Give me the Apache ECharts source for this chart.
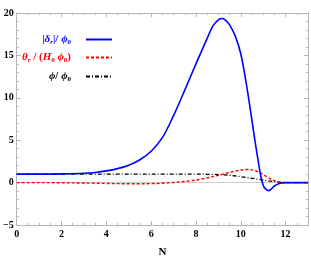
<!DOCTYPE html>
<html><head><meta charset="utf-8">
<script src="https://cdn.jsdelivr.net/npm/echarts@6/dist/echarts.min.js"></script>
<style>html,body{margin:0;padding:0;background:#fff}#c{width:311px;height:263px}</style>
</head><body><div id="c"></div>
<script>
var N = [0,1,2,3,3.5,4,4.5,5,5.5,6,6.5,7,7.5,8,8.5,8.75,9,9.15,9.3,9.5,9.75,10,10.25,10.5,10.75,11,11.25,11.5,11.75,12,12.5,13];
var deltaVals = [1.0,1.0,1.03,1.1,1.2,1.38,1.65,2.05,2.7,3.7,5.3,7.9,10.9,14.0,17.0,18.45,19.2,19.35,19.2,18.6,17.3,15.2,11.6,7.3,3.0,-0.3,-0.95,-0.4,-0.08,0,0,0];
var thetaVals = [0,0,-0.02,-0.05,-0.07,-0.1,-0.12,-0.14,-0.14,-0.12,-0.07,0.02,0.14,0.3,0.55,0.7,0.87,0.97,1.07,1.2,1.35,1.48,1.55,1.5,1.3,0.95,0.55,0.22,0.05,0,0,0];
var phiVals = [1,1,1,1,1,1,1,1,1,1,1,1,1,1,0.98,0.97,0.95,0.93,0.9,0.87,0.8,0.7,0.6,0.5,0.4,0.3,0.2,0.12,0.05,0.01,0,0];
var xTicks = [0,2,4,6,8,10,12];
var yTicks = [-5,0,5,10,15,20];

function pairs(v){ return N.map(function(n,i){ return [n, v[i]]; }); }
var FONT = '"Liberation Serif", "DejaVu Serif", serif';
var rich = {
  m:{fontFamily:FONT,fontSize:11,fontWeight:'bold',fontStyle:'italic',lineHeight:14},
  n:{fontFamily:FONT,fontSize:11,fontWeight:'bold',lineHeight:14},
  s:{fontFamily:FONT,fontSize:7,fontWeight:'bold',fontStyle:'italic',lineHeight:14,padding:[6,0,0,0]},
  t:{fontFamily:FONT,fontSize:7,fontWeight:'bold',lineHeight:14,padding:[6,0,0,0]}
};
var labels = {
  d: '{n||}{m|δ}{s|r}{n||/ }{m|ϕ}{t|0}',
  t: '{m|θ}{s|r}{n| / (}{m|H}{t|0}{n| }{m|ϕ}{t|0}{n|)}',
  p: '{m|ϕ}{n|/ }{m|ϕ}{t|0}'
};
function mkRich(color){
  var r = {};
  for (var k in rich){ r[k] = Object.assign({color:color}, rich[k]); }
  return r;
}
function legend(name, top, color){
  return {
    data:[name], top: top, right: 198, align:'right', orient:'vertical',
    itemWidth: 26, itemHeight: 10, itemGap: 0, padding:0,
    itemStyle:{opacity:0},
    formatter: function(nm){ return labels[nm]; },
    textStyle:{ rich: mkRich(color), padding:[0,10,0,0] }
  };
}
var tickLabel = {fontFamily:FONT, fontSize:10, fontWeight:'bold', color:'#000'};
var frameColor = '#b5b5b5';
var option = {
  animation:false,
  grid:{left:15, right:2, top:13, bottom:30},
  legend:[legend('d',33,'#0000ff'), legend('t',51,'#ff0000'), legend('p',70,'#000')],
  xAxis:[{
    type:'value', min:0, max:13, interval:2, position:'bottom',
    name:'N', nameLocation:'middle', nameGap:22,
    nameTextStyle:{fontFamily:FONT,fontSize:11,fontWeight:'bold',color:'#000'},
    axisLine:{show:true, onZero:false, lineStyle:{color:frameColor,width:1}},
    axisTick:{show:true, inside:true, length:4, lineStyle:{color:frameColor}},
    minorTick:{show:true, splitNumber:4, length:2, lineStyle:{color:frameColor}},
    axisLabel:Object.assign({margin:4, formatter:function(v){return xTicks.indexOf(v)>=0? String(v):'';}}, tickLabel),
    splitLine:{show:false}
  },{
    type:'value', min:0, max:13, interval:2, position:'top',
    axisLine:{show:true, onZero:false, lineStyle:{color:frameColor,width:1}},
    axisTick:{show:true, inside:true, length:4, lineStyle:{color:frameColor}},
    minorTick:{show:true, splitNumber:4, length:2, lineStyle:{color:frameColor}},
    axisLabel:{show:false}, splitLine:{show:false}
  }],
  yAxis:[{
    type:'value', min:-5, max:20, interval:5, position:'left',
    axisLine:{show:true, onZero:false, lineStyle:{color:frameColor,width:1}},
    axisTick:{show:true, inside:true, length:4, lineStyle:{color:frameColor}},
    minorTick:{show:true, splitNumber:5, length:2, lineStyle:{color:frameColor}},
    axisLabel:Object.assign({margin:3, formatter:function(v){ if(yTicks.indexOf(v)<0) return ''; return v<0? '\u2212'+(-v) : String(v);}}, tickLabel),
    splitLine:{show:false}
  },{
    type:'value', min:-5, max:20, interval:5, position:'right',
    axisLine:{show:true, onZero:false, lineStyle:{color:frameColor,width:1}},
    axisTick:{show:true, inside:true, length:4, lineStyle:{color:frameColor}},
    minorTick:{show:true, splitNumber:5, length:2, lineStyle:{color:frameColor}},
    axisLabel:{show:false}, splitLine:{show:false}
  }],
  series:[
    {name:'d', type:'line', data:pairs(deltaVals), showSymbol:false, symbol:'none', smooth:0.35, z:5,
     lineStyle:{color:'#0000ff', width:1.6}, itemStyle:{color:'#0000ff'},
     markLine:{silent:true, symbol:'none', label:{show:false}, lineStyle:{color:'#cccccc', width:1, type:'solid'}, data:[{yAxis:0}], z:1}},
    {name:'t', type:'line', data:pairs(thetaVals), showSymbol:false, symbol:'none', smooth:0.35, z:4,
     lineStyle:{color:'#ff0000', width:1.4, type:[3,2]}, itemStyle:{color:'#ff0000'}},
    {name:'p', type:'line', data:pairs(phiVals), showSymbol:false, symbol:'none', smooth:0.35, z:3,
     lineStyle:{color:'#000000', width:1.3, type:[4,2,1,2]}, itemStyle:{color:'#000'}}
  ]
};
var chart = echarts.init(document.getElementById('c'), null, {renderer:'canvas'});
chart.setOption(option);
</script></body></html>
